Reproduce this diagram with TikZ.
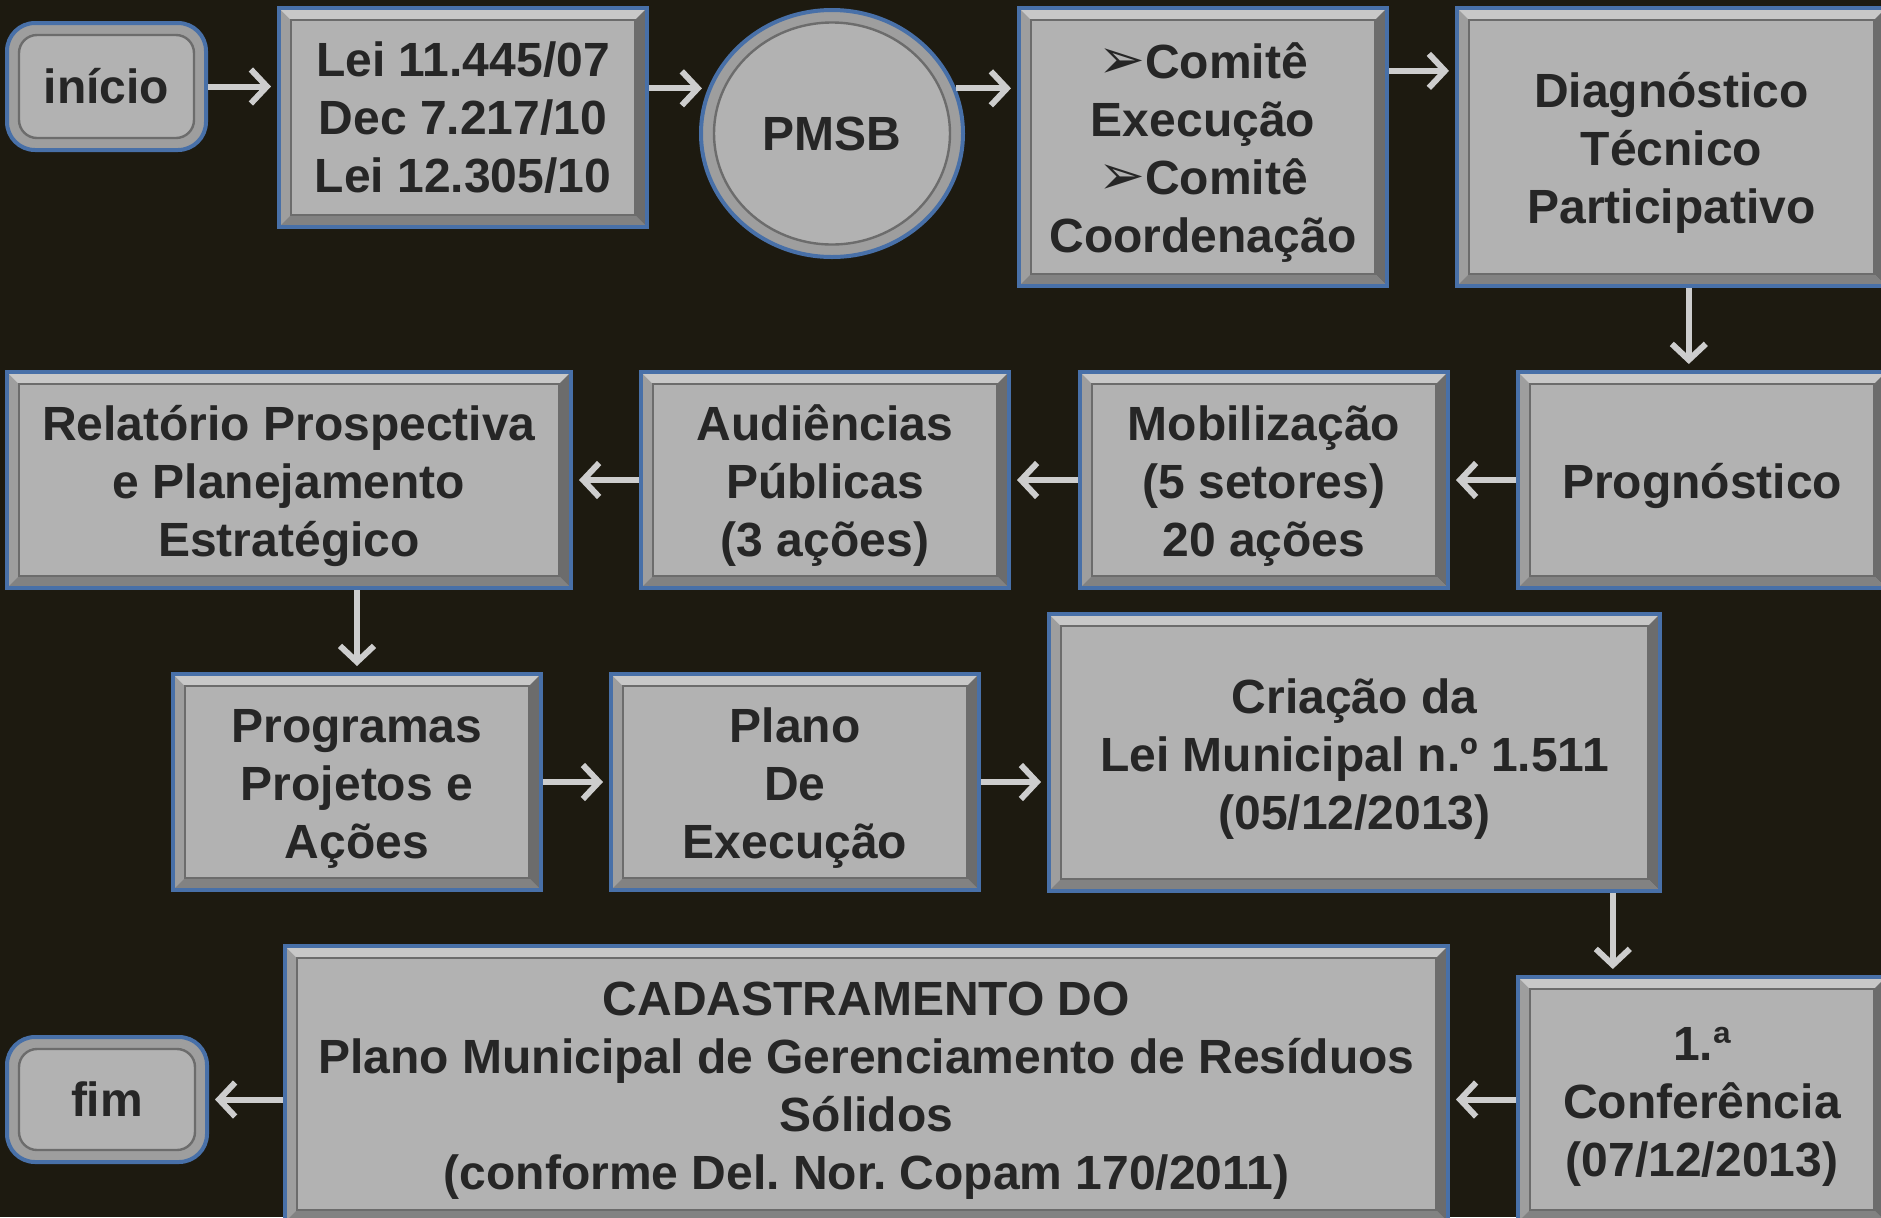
\documentclass[tikz,border=0pt]{standalone}
\usepackage{fontspec}
\setmainfont{Liberation Sans}
\newfontfamily\symfont{DejaVu Sans}
\usepackage{xcolor}
\usepackage{tikz}
\usetikzlibrary{shapes.geometric}
\usetikzlibrary{arrows.meta}
\usetikzlibrary{calc}
\definecolor{bgcol}{RGB}{29,26,16}
\definecolor{boxedge}{RGB}{72,112,168}
\definecolor{boxframe}{RGB}{158,158,158}
\definecolor{boxface}{RGB}{178,178,178}
\definecolor{bevlight}{RGB}{200,200,200}
\definecolor{bevdark}{RGB}{108,108,108}
\definecolor{txtcol}{RGB}{38,38,38}
\definecolor{arrowcol}{RGB}{205,205,205}
\newcommand{\seta}{{\symfont\mdseries\fontsize{28}{29}\selectfont ➢}}
\newcommand{\topo}{\rule{0pt}{23.5pt}}
\frenchspacing

\tikzset{
  base/.style={draw=boxedge, line width=2pt, fill=boxframe, inner sep=0pt,
    align=center, text=txtcol, font=\fontsize{24}{29}\selectfont\bfseries},
  panel/.style={base,
    path picture={
      \coordinate (o1) at (path picture bounding box.south west);
      \coordinate (o2) at (path picture bounding box.south east);
      \coordinate (o3) at (path picture bounding box.north east);
      \coordinate (o4) at (path picture bounding box.north west);
      \coordinate (i1) at ([shift={(6pt,6pt)}]o1);
      \coordinate (i2) at ([shift={(-6pt,6pt)}]o2);
      \coordinate (i3) at ([shift={(-6pt,-6pt)}]o3);
      \coordinate (i4) at ([shift={(6pt,-6pt)}]o4);
      \fill[bevlight] (o4) -- (o3) -- (i3) -- (i4) -- cycle;
      \fill[bevdark] (o3) -- (o2) -- (i2) -- (i3) -- cycle;
      \fill[bevdark!85!white] (o2) -- (o1) -- (i1) -- (i2) -- cycle;
      \fill[boxface] (i1) rectangle (i3);
      \draw[bevdark, line width=0.6pt] (i1) rectangle (i3);}},
  pill/.style={base, rounded corners=14pt, path picture={\draw[bevdark, line width=1.2pt, fill=boxface, rounded corners=9pt]
      ([shift={(6pt,6pt)}]path picture bounding box.south west) rectangle
      ([shift={(-6pt,-6pt)}]path picture bounding box.north east);}},
  oval/.style={base, ellipse, path picture={\draw[bevdark, line width=1.2pt, fill=boxface]
      (path picture bounding box.center) ellipse [x radius=59pt, y radius=55.5pt];}},
  flow/.style={color=arrowcol, line width=3pt, shorten >=3pt,
    -{Straight Barb[length=8pt,width=17pt]}}
}

\begin{document}
\begin{tikzpicture}[x=0.5pt, y=-0.5pt]
  \fill[bgcol] (0,0) rectangle (1881,1217);
  \useasboundingbox (0,0) rectangle (1881,1217);

  % linha 1
  \node[pill, minimum width=99.5pt, minimum height=63.5pt] (inicio) at (106.5,86.5) {início};
  \node[panel, minimum width=184pt, minimum height=109.5pt] (lei) at (463,117.5) {Lei 11.445/07\\Dec 7.217/10\\Lei 12.305/10};
  \node[oval, minimum width=131pt, minimum height=123.5pt] (pmsb) at (832,133.5) {PMSB};
  \node[panel, minimum width=184pt, minimum height=139pt] (comite) at (1203,147) {\topo\seta Comitê\\Execução\\\seta Comitê\\Coordenação};
  \node[panel, minimum width=214.5pt, minimum height=139pt] (diag) at (1671.5,147) {\topo Diagnóstico\\Técnico\\Participativo};

  % linha 2
  \node[panel, minimum width=282pt, minimum height=108pt] (relat) at (289,480) {\topo Relatório Prospectiva\\e Planejamento\\Estratégico};
  \node[panel, minimum width=184pt, minimum height=108pt] (aud) at (825,480) {\topo Audiências\\Públicas\\(3 ações)};
  \node[panel, minimum width=184pt, minimum height=108pt] (mob) at (1264,480) {\topo Mobilização\\(5 setores)\\20 ações};
  \node[panel, minimum width=184pt, minimum height=108pt] (prog) at (1702,480) {\topo Prognóstico};

  % linha 3
  \node[panel, minimum width=184pt, minimum height=108pt] (progr) at (357,782) {\topo Programas\\Projetos e\\Ações};
  \node[panel, minimum width=184pt, minimum height=108pt] (plano) at (795,782) {\topo Plano\\De\\Execução};
  \node[panel, minimum width=305.5pt, minimum height=138.5pt] (cria) at (1354.5,752.5) {\topo Criação da\\Lei Municipal n.º 1.511\\(05/12/2013)};

  % linha 4
  \node[pill, minimum width=100pt, minimum height=62.5pt] (fim) at (107,1099.5) {fim};
  \node[panel, minimum width=581.5pt, minimum height=138pt] (cad) at (866.5,1084) {\topo CADASTRAMENTO DO\\Plano Municipal de Gerenciamento de Resíduos\\Sólidos\\(conforme Del. Nor. Copam 170/2011)};
  \node[panel, minimum width=184pt, minimum height=122.5pt] (conf) at (1702,1099.5) {\topo 1.ª\\Conferência\\(07/12/2013)};

  \coordinate (c1) at ($(comite.north east)!0.23!(comite.south east)$);
  \coordinate (d1) at ($(diag.south west)!0.54!(diag.south east)$);
  \coordinate (k1) at ($(cria.south west)!0.92!(cria.south east)$);

  \path[flow]
    (inicio.east) edge (inicio.east -| lei.west)
    (pmsb.160 -| lei.east) edge (pmsb.160)
    (pmsb.20) edge (pmsb.20 -| comite.west)
    (c1) edge (c1 -| diag.west)
    (d1) edge (d1 |- prog.north)
    (prog.west) edge (mob.east)
    (mob.west) edge (aud.east)
    (aud.west) edge (relat.east)
    (relat.south -| progr.north) edge (progr.north)
    (progr.east) edge (plano.west)
    (plano.east) edge (plano.east -| cria.west)
    (k1) edge (k1 |- conf.north)
    (conf.west) edge (conf.west -| cad.east)
    (fim.east -| cad.west) edge (fim.east);
\end{tikzpicture}
\end{document}
